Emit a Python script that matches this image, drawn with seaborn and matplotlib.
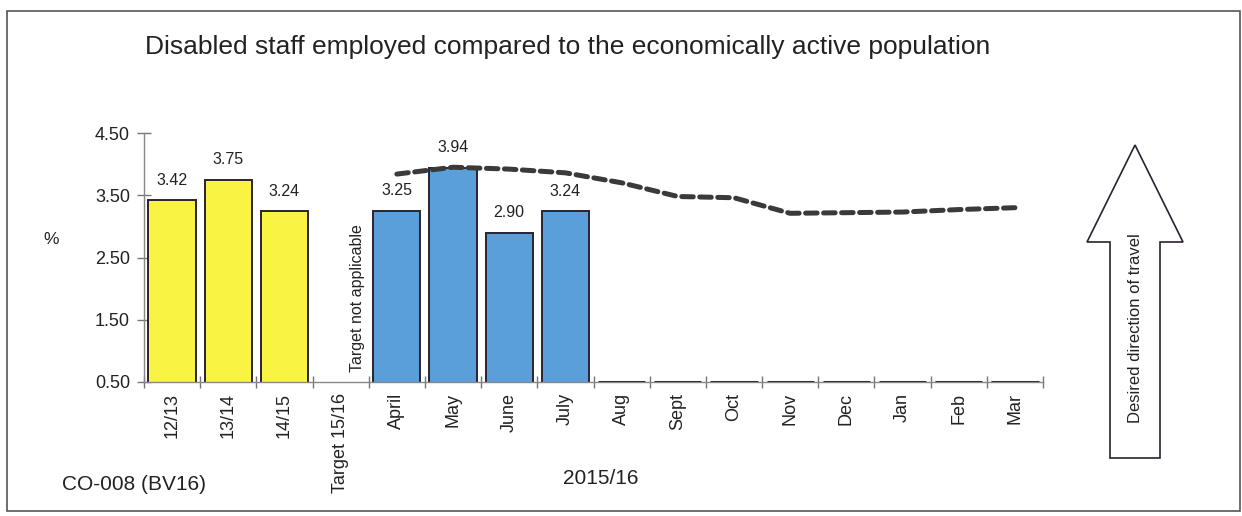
import numpy as np
import pandas as pd
import seaborn as sns
import matplotlib.pyplot as plt
from matplotlib.patches import Rectangle, FancyArrow
from matplotlib.ticker import FixedLocator, NullFormatter

sns.set_theme(style="white")
plt.rcParams["font.family"] = ["Liberation Sans", "DejaVu Sans"]

# Periods shown along the x axis
periods = ["12/13", "13/14", "14/15", "Target 15/16", "April", "May", "June",
           "July", "Aug", "Sept", "Oct", "Nov", "Dec", "Jan", "Feb", "Mar"]
# Actual percentages (NaN where no figure yet)
actuals = [3.42, 3.75, 3.24, np.nan, 3.25, 3.94, 2.90, 3.24,
           np.nan, np.nan, np.nan, np.nan, np.nan, np.nan, np.nan, np.nan]
# Period type: earlier financial years vs. current-year months
kinds = ["year", "year", "year", "target", "month", "month", "month", "month",
         "month", "month", "month", "month", "month", "month", "month", "month"]
# Monthly target profile for 2015/16
target_months = ["April", "May", "June", "July", "Aug", "Sept", "Oct", "Nov",
                 "Dec", "Jan", "Feb", "Mar"]
target_values = [3.84, 3.95, 3.92, 3.86, 3.70, 3.48, 3.46, 3.21, 3.22, 3.23,
                 3.27, 3.30]
y_ticks = [0.50, 1.50, 2.50, 3.50, 4.50]

df = pd.DataFrame({"period": periods, "value": actuals, "kind": kinds})
colours = {"year": "#F9F443", "month": "#5A9FDA", "target": "#FFFFFF"}

W, H = 1242, 516
fig = plt.figure(figsize=(W / 100, H / 100), dpi=100)
ax = fig.add_axes([144 / W, 1 - 382 / H, 899 / W, 249 / H])

sns.barplot(data=df, x="period", y="value", hue="kind", palette=colours,
            order=periods, dodge=False, width=0.84, saturation=1,
            edgecolor="#2a2230", linewidth=1.4, legend=False, ax=ax)

# Months still to report sit on the baseline as flat outlines
for i, v in enumerate(actuals):
    if np.isnan(v) and kinds[i] == "month":
        ax.hlines(0.5, i - 0.42, i + 0.42, color="#333333", lw=2.2, zorder=4)

# Target line
tx = [periods.index(m) for m in target_months]
ax.plot(tx, target_values, color="#3a3a3a", lw=3.6, ls=(0, (2.3, 1.3)),
        dash_capstyle="round", solid_capstyle="round", zorder=5)

# Value labels above the bars
for i, v in enumerate(actuals):
    if not np.isnan(v):
        ax.text(i, v + 0.32, f"{v:.2f}", ha="center", va="center",
                fontsize=11.5, color="#222222")

ax.text(3.3, 0.66, "Target not applicable", rotation=90, ha="center",
        va="bottom", fontsize=11.5, color="#222222")

ax.set_xlim(-0.5, len(periods) - 0.5)
ax.set_ylim(0.5, 4.5)
ax.set_yticks(y_ticks)
ax.set_yticklabels([f"{t:.2f}" for t in y_ticks], fontsize=13)
ax.set_xticks(range(len(periods)))
ax.set_xticklabels(periods, rotation=90, fontsize=13)
ax.xaxis.set_minor_locator(FixedLocator(np.arange(-0.5, len(periods), 1.0)))
ax.xaxis.set_minor_formatter(NullFormatter())
ax.tick_params(axis="x", which="major", bottom=False, length=0, pad=8,
               labelcolor="#222222")
ax.tick_params(axis="x", which="minor", bottom=True, length=8,
               direction="inout", color="#777777", width=1)
ax.tick_params(axis="y", which="major", left=True, length=10,
               direction="inout", color="#777777", width=1, pad=5,
               labelcolor="#222222")
ax.set_xlabel("")
ax.set_ylabel("")
for side in ["top", "right"]:
    ax.spines[side].set_visible(False)
for side in ["left", "bottom"]:
    ax.spines[side].set_color("#888888")
    ax.spines[side].set_linewidth(1)

# Figure-level text
fig.text(568 / W, 1 - 47 / H, "Disabled staff employed compared to the "
         "economically active population", ha="center", va="center",
         fontsize=19, color="#222222")
fig.text(51 / W, 1 - 240 / H, "%", ha="center", va="center",
         fontsize=12.5, color="#222222")
fig.text(62 / W, 1 - 484 / H, "CO-008 (BV16)", ha="left", va="center",
         fontsize=15, color="#222222")
fig.text(601 / W, 1 - 479 / H, "2015/16", ha="center", va="center",
         fontsize=15, color="#222222")

# Outline arrow showing the desired direction
arrow = FancyArrow(1135 / W, 1 - 458 / H, 0, (458 - 145) / H,
                   width=50 / W, head_width=96 / W, head_length=97 / H,
                   length_includes_head=True, transform=fig.transFigure,
                   facecolor="white", edgecolor="#2a2230", linewidth=1.2)
fig.add_artist(arrow)
fig.text(1135 / W, 1 - 328 / H, "Desired direction of travel", rotation=90,
         ha="center", va="center", fontsize=12, color="#222222")

# Chart border
fig.add_artist(Rectangle((7 / W, 1 - 511 / H), (1240 - 7) / W, (511 - 11) / H,
                         transform=fig.transFigure, fill=False,
                         edgecolor="#555555", linewidth=1.2))

fig.savefig("out.png", dpi=100)
